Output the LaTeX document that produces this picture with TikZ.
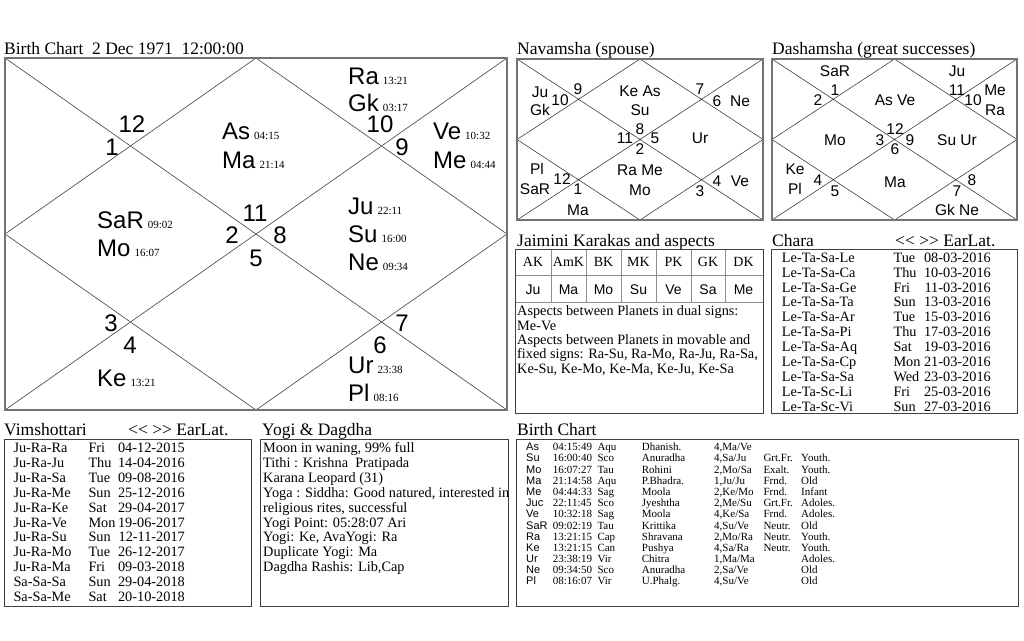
\documentclass[tikz,border=0pt]{standalone}
\usepackage{fontspec}
\setmainfont{Liberation Serif}
\setsansfont{Liberation Sans}
\tikzset{
 chartbox/.style={draw=black!55, line width=1.8pt},
 chartline/.style={draw=black!75, line width=0.6pt},
 listbox/.style={draw=black!75, line width=0.9pt},
 cellline/.style={draw=black!45, line width=1pt},
 ttl/.style={anchor=base west, inner sep=0, font=\fontsize{17.5}{18}\selectfont},
 bigp/.style={anchor=base west, inner sep=0, font=\fontsize{24}{24}\selectfont\sffamily},
 bign/.style={anchor=center, inner sep=0, font=\fontsize{24}{24}\selectfont\sffamily},
 midt/.style={anchor=base, inner sep=0, font=\fontsize{15.5}{16}\selectfont\sffamily},
 lst/.style={anchor=base west, inner sep=0, font=\fontsize{14.3}{15}\selectfont},
 lstr/.style={anchor=base east, inner sep=0, font=\fontsize{14.3}{15}\selectfont},
 lstc/.style={anchor=base, inner sep=0, font=\fontsize{14}{15}\selectfont},
 lstcs/.style={anchor=base, inner sep=0, font=\fontsize{14}{15}\selectfont\sffamily},
 tbl/.style={anchor=base west, inner sep=0, font=\fontsize{11}{11}\selectfont},
 tblp/.style={anchor=base west, inner sep=0, font=\fontsize{11}{11}\selectfont\sffamily},
}
\newcommand\bpl[5]{\node[bigp] (#1) at (#2,#3) {#4\,{\fontsize{11}{11}\selectfont\rmfamily #5}};}
\newcommand\bnum[4]{\node[bign] (#1) at (#2,#3) {#4};}
\newcommand\mtx[4]{\node[midt] (#1) at (#2,#3+5.5) {#4};}
\newcommand\navlink{{<}{<} {>}{>} EarLat.}
\newcommand\brow[8]{%
 \node[tblp] (bp#1) at (526,450.7+11.19*#1) {#2};
 \node[tbl] (ba#1) at (552.7,450.7+11.19*#1) {#3};
 \node[tbl] (bb#1) at (597.3,450.7+11.19*#1) {#4};
 \node[tbl] (bc#1) at (641.7,450.7+11.19*#1) {#5};
 \node[tbl] (bd#1) at (714,450.7+11.19*#1) {#6};
 \node[tbl] (be#1) at (763.3,450.7+11.19*#1) {#7};
 \node[tbl] (bf#1) at (801,450.7+11.19*#1) {#8};}
\begin{document}
\begin{tikzpicture}[x=1pt,y=-1pt]
\useasboundingbox (0,0) rectangle (1024,640);
\fill[white] (0,0) rectangle (1024,640);

% ---------- titles
\node[ttl] (t1) at (4,54) {Birth Chart~ 2 Dec 1971~ 12:00:00};
\node[ttl] (t2) at (517,54) {Navamsha (spouse)};
\node[ttl] (t3) at (772,54) {Dashamsha (great successes)};
\node[ttl] (t4) at (517,246) {Jaimini Karakas and aspects};
\node[ttl] (t5) at (772,246) {Chara};
\node[ttl] (t5b) at (895,246) {\navlink};
\node[ttl] (t6) at (4,435) {Vimshottari};
\node[ttl] (t6b) at (128,435) {\navlink};
\node[ttl] (t7) at (262,435) {Yogi \& Dagdha};
\node[ttl] (t8) at (517,435) {Birth Chart};

% ---------- main chart
\coordinate (mTL) at (5,58); \coordinate (mTR) at (507,58);
\coordinate (mBL) at (5,410); \coordinate (mBR) at (507,410);
\coordinate (mT) at (256,58); \coordinate (mB) at (256,410);
\coordinate (mL) at (5,234); \coordinate (mR) at (507,234);
\draw[chartline] (mTL) -- (mBR) (mTR) -- (mBL) (mT) -- (mR) -- (mB) -- (mL) -- cycle;
\draw[chartbox] (mTL) rectangle (mBR);

\bpl{pRa}{348}{84}{Ra}{13:21}
\bpl{pGk}{348}{111.7}{Gk}{03:17}
\bpl{pAs}{222}{139.3}{As}{04:15}
\bpl{pMa}{222}{168}{Ma}{21:14}
\bpl{pVe}{433}{139.3}{Ve}{10:32}
\bpl{pMe}{433}{168}{Me}{04:44}
\bpl{pSa}{97}{228.3}{SaR}{09:02}
\bpl{pMo}{97}{256.7}{Mo}{16:07}
\bpl{pJu}{348}{214}{Ju}{22:11}
\bpl{pSu}{348}{242.3}{Su}{16:00}
\bpl{pNe}{348}{270.7}{Ne}{09:34}
\bpl{pKe}{97}{386.7}{Ke}{13:21}
\bpl{pUr}{348}{373.3}{Ur}{23:38}
\bpl{pPl}{348}{401.7}{Pl}{08:16}

\bnum{h12}{132}{124.5}{12}
\bnum{h1}{112}{147}{1}
\bnum{h10}{380}{124.5}{10}
\bnum{h9}{402}{147}{9}
\bnum{h11}{255}{213}{11}
\bnum{h2}{232}{235}{2}
\bnum{h8}{280}{235}{8}
\bnum{h5}{256}{258}{5}
\bnum{h3}{111}{323}{3}
\bnum{h4}{130}{345}{4}
\bnum{h7}{402}{323}{7}
\bnum{h6}{380}{345}{6}

% ---------- Navamsha
\coordinate (nTL) at (517,59); \coordinate (nTR) at (763,59);
\coordinate (nBL) at (517,220); \coordinate (nBR) at (763,220);
\coordinate (nT) at (640,59); \coordinate (nB) at (640,220);
\coordinate (nL) at (517,139.5); \coordinate (nR) at (763,139.5);
\draw[chartline] (nTL) -- (nBR) (nTR) -- (nBL) (nT) -- (nR) -- (nB) -- (nL) -- cycle;
\draw[chartbox] (nTL) rectangle (nBR);
\mtx{nJu}{540}{92}{Ju}
\mtx{nGk}{540}{110}{Gk}
\mtx{n9}{578}{89}{9}
\mtx{n10}{560}{100}{10}
\mtx{nKeAs}{640}{91}{Ke As}
\mtx{nSu}{640}{110}{Su}
\mtx{n7}{700}{89}{7}
\mtx{n6}{717}{101}{6}
\mtx{nNe}{740}{101}{Ne}
\mtx{n8}{640}{129}{8}
\mtx{n11}{625}{138}{11}
\mtx{n5}{655}{138}{5}
\mtx{n2}{640}{149}{2}
\mtx{nUr}{700}{138}{Ur}
\mtx{nPl}{537}{169}{Pl}
\mtx{nSaR}{535}{189}{SaR}
\mtx{n12}{562}{179}{12}
\mtx{n1}{578}{189}{1}
\mtx{nMa}{578}{210}{Ma}
\mtx{nRaMe}{640}{170}{Ra Me}
\mtx{nMo}{640}{190}{Mo}
\mtx{n4}{717}{181}{4}
\mtx{nVe}{740}{181}{Ve}
\mtx{n3}{700}{191}{3}

% ---------- Dashamsha
\coordinate (dTL) at (772,59); \coordinate (dTR) at (1017,59);
\coordinate (dBL) at (772,220); \coordinate (dBR) at (1017,220);
\coordinate (dT) at (894.5,59); \coordinate (dB) at (894.5,220);
\coordinate (dL) at (772,139.5); \coordinate (dR) at (1017,139.5);
\draw[chartline] (dTL) -- (dBR) (dTR) -- (dBL) (dT) -- (dR) -- (dB) -- (dL) -- cycle;
\draw[chartbox] (dTL) rectangle (dBR);
\mtx{dSaR}{835}{71}{SaR}
\mtx{d1}{835}{90}{1}
\mtx{d2}{818}{100}{2}
\mtx{dAsVe}{895}{100}{As Ve}
\mtx{dJu}{957}{71}{Ju}
\mtx{d11}{957}{90}{11}
\mtx{d10}{973}{100}{10}
\mtx{dMe}{995}{90}{Me}
\mtx{dRa}{995}{110}{Ra}
\mtx{dMo}{835}{140}{Mo}
\mtx{d3}{880}{140}{3}
\mtx{d12}{895}{129}{12}
\mtx{d9}{910}{140}{9}
\mtx{d6}{895}{149}{6}
\mtx{dSuUr}{957}{140}{Su Ur}
\mtx{dKe}{795}{169}{Ke}
\mtx{dPl}{795}{189}{Pl}
\mtx{d4}{818}{180}{4}
\mtx{d5}{835}{191}{5}
\mtx{dMa}{895}{182}{Ma}
\mtx{d8}{972}{180}{8}
\mtx{d7}{957}{191}{7}
\mtx{dGkNe}{957}{210}{Gk Ne}

% ---------- Jaimini
\foreach \cx in {551,586,621,656,691,725}{\draw[cellline] (\cx,249) -- (\cx,302);}
\draw[cellline] (515,275.5) -- (763,275.5) (515,302) -- (763,302);
\draw[listbox] (515,249) rectangle (763,413);
\foreach \cx/\ka/\kb [count=\i] in {533/AK/Ju,568.5/AmK/Ma,603.5/BK/Mo,638.5/MK/Su,673.5/PK/Ve,708/GK/Sa,743.5/DK/Me}{
 \node[lstc] (jk\i) at (\cx,266.7) {\ka};
 \node[lstcs] (jp\i) at (\cx,294) {\kb};
}
\node[lst] (ja1) at (517,315.7) {Aspects between Planets in dual signs:};
\node[lst] (ja2) at (517,330) {Me-Ve};
\node[lst] (ja3) at (517,344.3) {Aspects between Planets in movable and};
\node[lst] (ja4) at (517,358.6) {fixed signs: Ra-Su, Ra-Mo, Ra-Ju, Ra-Sa,};
\node[lst] (ja5) at (517,373) {Ke-Su, Ke-Mo, Ke-Ma, Ke-Ju, Ke-Sa};

% ---------- Chara
\draw[listbox] (771,249) rectangle (1017,413);
\foreach \va/\vb/\vc [count=\i from 0] in {Le-Ta-Sa-Le/Tue/08-03-2016,Le-Ta-Sa-Ca/Thu/10-03-2016,Le-Ta-Sa-Ge/Fri/11-03-2016,Le-Ta-Sa-Ta/Sun/13-03-2016,Le-Ta-Sa-Ar/Tue/15-03-2016,Le-Ta-Sa-Pi/Thu/17-03-2016,Le-Ta-Sa-Aq/Sat/19-03-2016,Le-Ta-Sa-Cp/Mon/21-03-2016,Le-Ta-Sa-Sa/Wed/23-03-2016,Le-Ta-Sc-Li/Fri/25-03-2016,Le-Ta-Sc-Vi/Sun/27-03-2016}{
 \node[lst] (ca\i) at (781.7,262.3+14.87*\i) {\va};
 \node[lst] (cb\i) at (893.3,262.3+14.87*\i) {\vb};
 \node[lstr] (cc\i) at (991,262.3+14.87*\i) {\vc};
}

% ---------- Vimshottari
\draw[listbox] (4,439) rectangle (251,606);
\foreach \va/\vb/\vc [count=\i from 0] in {Ju-Ra-Ra/Fri/04-12-2015,Ju-Ra-Ju/Thu/14-04-2016,Ju-Ra-Sa/Tue/09-08-2016,Ju-Ra-Me/Sun/25-12-2016,Ju-Ra-Ke/Sat/29-04-2017,Ju-Ra-Ve/Mon/19-06-2017,Ju-Ra-Su/Sun/12-11-2017,Ju-Ra-Mo/Tue/26-12-2017,Ju-Ra-Ma/Fri/09-03-2018,Sa-Sa-Sa/Sun/29-04-2018,Sa-Sa-Me/Sat/20-10-2018}{
 \node[lst] (va\i) at (13.3,452.3+14.94*\i) {\va};
 \node[lst] (vb\i) at (88.3,452.3+14.94*\i) {\vb};
 \node[lstr] (vc\i) at (185,452.3+14.94*\i) {\vc};
}

% ---------- Yogi & Dagdha
\draw[listbox] (260,439) rectangle (508,606);
\node[lst] (y1) at (263,452.3) {Moon in waning, 99\% full};
\node[lst] (y2) at (263,467.2) {Tithi : Krishna~ Pratipada};
\node[lst] (y3) at (263,482.2) {Karana Leopard (31)};
\node[lst] (y4) at (263,497.1) {Yoga : Siddha: Good natured, interested in};
\node[lst] (y5) at (263,512.1) {religious rites, successful};
\node[lst] (y6) at (263,527) {Yogi Point: 05:28:07 Ari};
\node[lst] (y7) at (263,541.9) {Yogi: Ke, AvaYogi: Ra};
\node[lst] (y8) at (263,556.9) {Duplicate Yogi: Ma};
\node[lst] (y9) at (263,571.8) {Dagdha Rashis: Lib,Cap};

% ---------- Birth chart table
\draw[listbox] (516,439) rectangle (1018,606);
\brow{0}{As}{04:15:49}{Aqu}{Dhanish.}{4,Ma/Ve}{}{}
\brow{1}{Su}{16:00:40}{Sco}{Anuradha}{4,Sa/Ju}{Grt.Fr.}{Youth.}
\brow{2}{Mo}{16:07:27}{Tau}{Rohini}{2,Mo/Sa}{Exalt.}{Youth.}
\brow{3}{Ma}{21:14:58}{Aqu}{P.Bhadra.}{1,Ju/Ju}{Frnd.}{Old}
\brow{4}{Me}{04:44:33}{Sag}{Moola}{2,Ke/Mo}{Frnd.}{Infant}
\brow{5}{Juc}{22:11:45}{Sco}{Jyeshtha}{2,Me/Su}{Grt.Fr.}{Adoles.}
\brow{6}{Ve}{10:32:18}{Sag}{Moola}{4,Ke/Sa}{Frnd.}{Adoles.}
\brow{7}{SaR}{09:02:19}{Tau}{Krittika}{4,Su/Ve}{Neutr.}{Old}
\brow{8}{Ra}{13:21:15}{Cap}{Shravana}{2,Mo/Ra}{Neutr.}{Youth.}
\brow{9}{Ke}{13:21:15}{Can}{Pushya}{4,Sa/Ra}{Neutr.}{Youth.}
\brow{10}{Ur}{23:38:19}{Vir}{Chitra}{1,Ma/Ma}{}{Adoles.}
\brow{11}{Ne}{09:34:50}{Sco}{Anuradha}{2,Sa/Ve}{}{Old}
\brow{12}{Pl}{08:16:07}{Vir}{U.Phalg.}{4,Su/Ve}{}{Old}
\end{tikzpicture}
\end{document}
